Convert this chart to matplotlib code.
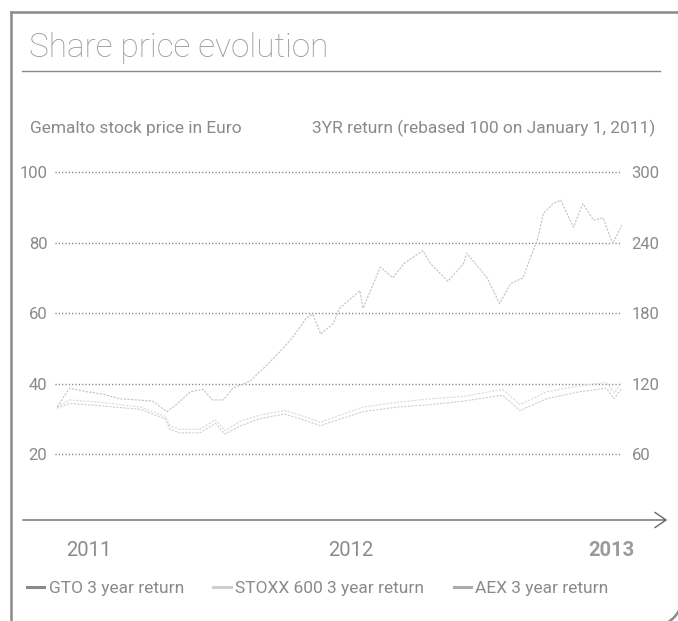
import matplotlib
matplotlib.use("Agg")
import matplotlib.pyplot as plt
from matplotlib.lines import Line2D
from matplotlib.patches import Arc

plt.rcParams['font.family'] = ['Roboto', 'DejaVu Sans']

# months since January 2011, values rebased to 100
gto_month = [0, 0.8, 1.9, 2.9, 4.0, 5.1, 6.1, 7.0, 7.6, 8.5, 9.3, 9.9, 10.6, 11.2,
             12.3, 13.4, 14.4, 15.0, 15.9, 16.3, 16.8, 17.6, 18.0, 19.3, 19.5, 20.6,
             21.4, 22.1, 23.3, 23.8, 24.9, 25.9, 26.1, 27.4, 28.2, 28.9, 29.7, 30.1,
             30.6, 31.0, 31.6, 32.1, 32.9, 33.5, 34.2, 34.8, 35.4, 36.0]
gto_value = [100, 116, 113, 111, 107, 106, 105, 96, 102, 113, 115, 106, 106, 116,
             122, 136, 150, 159, 176, 179, 162, 171, 184, 199, 184, 219,
             210, 222, 233, 222, 207, 222, 231, 210, 188, 205, 210, 225,
             242, 265, 273, 276, 253, 273, 259, 261, 239, 255]

idx_month = [0, 0.8, 2.8, 5.3, 6.9, 7.2, 7.8, 9.1, 10.1, 10.7, 11.7, 12.9, 14.5,
             15.5, 16.8, 17.4, 19.5, 21.7, 23.8, 25.9, 28.4, 29.5, 31.2, 33.3,
             35.0, 35.5, 36.0]
stoxx_value = [100, 106, 104, 100, 92, 84, 81, 81, 89, 80, 88, 93, 97,
               93, 87, 90, 100, 104, 107, 109, 115, 102, 113, 118, 121, 112, 121]
aex_value = [99, 103, 101, 98, 90, 81, 78, 78, 86, 77, 84, 90, 94,
             90, 84, 87, 96, 100, 102, 105, 110, 97, 107, 113, 116, 107, 116]

left_ticks = [20, 40, 60, 80, 100]
right_ticks = [60, 120, 180, 240, 300]
year_labels = ['2011', '2012', '2013']
year_pos = [2.0, 18.7, 35.3]

series_labels = ['GTO 3 year return', 'STOXX 600 3 year return', 'AEX 3 year return']
line_colors = ['#c2c2c2', '#dadada', '#cecece']
legend_colors = ['#8a8a8a', '#cfcfcf', '#ababab']

W, H = 678, 621
fig = plt.figure(figsize=(W / 100, H / 100), dpi=100)


def fx(px):
    return px / W


def fy(py):
    return 1 - py / H


# axes: x 57..622 px, y 160..520 px
ax = fig.add_axes([fx(57), fy(520), fx(622) - fx(57), fy(160) - fy(520)])
ax2 = ax.twinx()

px_per_unit = 282 / 240
r_top = 300 + (172 - 160) / px_per_unit
r_bot = 300 - (520 - 172) / px_per_unit
ax2.set_ylim(r_bot, r_top)
ax.set_ylim(r_bot / 3, r_top / 3)
ax.set_xlim(0, 36)

for v in right_ticks:
    ax2.plot([-0.1, 35.9], [v, v], color='#7a7a7a', lw=1.0,
             linestyle=(0, (0.8, 1.6)), clip_on=False, zorder=1)

ax2.plot(idx_month, stoxx_value, color=line_colors[1], lw=0.8,
         linestyle=(0, (2, 1.2)), zorder=2)
ax2.plot(idx_month, aex_value, color=line_colors[2], lw=0.8,
         linestyle=(0, (2, 1.2)), zorder=2)
ax2.plot(gto_month, gto_value, color=line_colors[0], lw=0.8,
         linestyle=(0, (2, 1.2)), zorder=3)

ax.set_yticks(left_ticks)
ax.set_yticklabels([str(t) for t in left_ticks])
ax2.set_yticks(right_ticks)
ax2.set_yticklabels([str(t) for t in right_ticks])
ax.tick_params(axis='y', length=0, pad=7, labelsize=12, labelcolor='#8a8a8a')
ax2.tick_params(axis='y', length=0, pad=7, labelsize=12, labelcolor='#8a8a8a')

ax.set_xticks(year_pos)
ax.set_xticklabels(year_labels)
ax.tick_params(axis='x', length=0, pad=15, labelsize=14.5, labelcolor='#8a8a8a')
ax.get_xticklabels()[-1].set_fontweight('bold')
ax.get_xticklabels()[-1].set_color('#9a9a9a')

for a in (ax, ax2):
    for s in a.spines.values():
        s.set_visible(False)
    a.patch.set_visible(False)

# x axis arrow
fig.add_artist(matplotlib.patches.FancyArrowPatch(
    (fx(20), fy(520)), (fx(670), fy(520)), transform=fig.transFigure,
    arrowstyle='->,head_length=0.8,head_width=0.55', mutation_scale=10,
    color='#666666', lw=1.0))

# frame
fig.add_artist(Line2D([fx(11), fx(11)], [0, fy(12)], color='#8a8a8a', lw=1.8))
fig.add_artist(Line2D([fx(11), 1], [fy(12), fy(12)], color='#8a8a8a', lw=1.8))
fig.add_artist(Arc((6.52, (H - 596) / 100), 0.614, 0.614, theta1=-62, theta2=-25,
                   transform=fig.dpi_scale_trans, color='#8a8a8a', lw=1.8))

# title and subtitles
fig.text(fx(29), fy(57), 'Share price evolution', fontsize=24, fontweight='light',
         color='#999999', va='baseline')
fig.add_artist(Line2D([fx(22), fx(660)], [fy(71), fy(71)], color='#8a8a8a', lw=1.0))
fig.text(fx(30), fy(133), 'Gemalto stock price in Euro', fontsize=12.5,
         color='#8a8a8a', va='baseline')
fig.text(fx(655), fy(133), '3YR return (rebased 100 on January 1, 2011)', fontsize=12.5,
         color='#8a8a8a', va='baseline', ha='right')

handles = [Line2D([], [], color=c, lw=2.2) for c in legend_colors]
fig.legend(handles, series_labels, loc='center left',
           bbox_to_anchor=(fx(27), fy(588)), ncol=3, frameon=False,
           handlelength=1.0, handletextpad=0.25, columnspacing=1.7,
           fontsize=12.5, labelcolor='#8a8a8a', borderpad=0, borderaxespad=0)

fig.savefig('out.png', dpi=100)
